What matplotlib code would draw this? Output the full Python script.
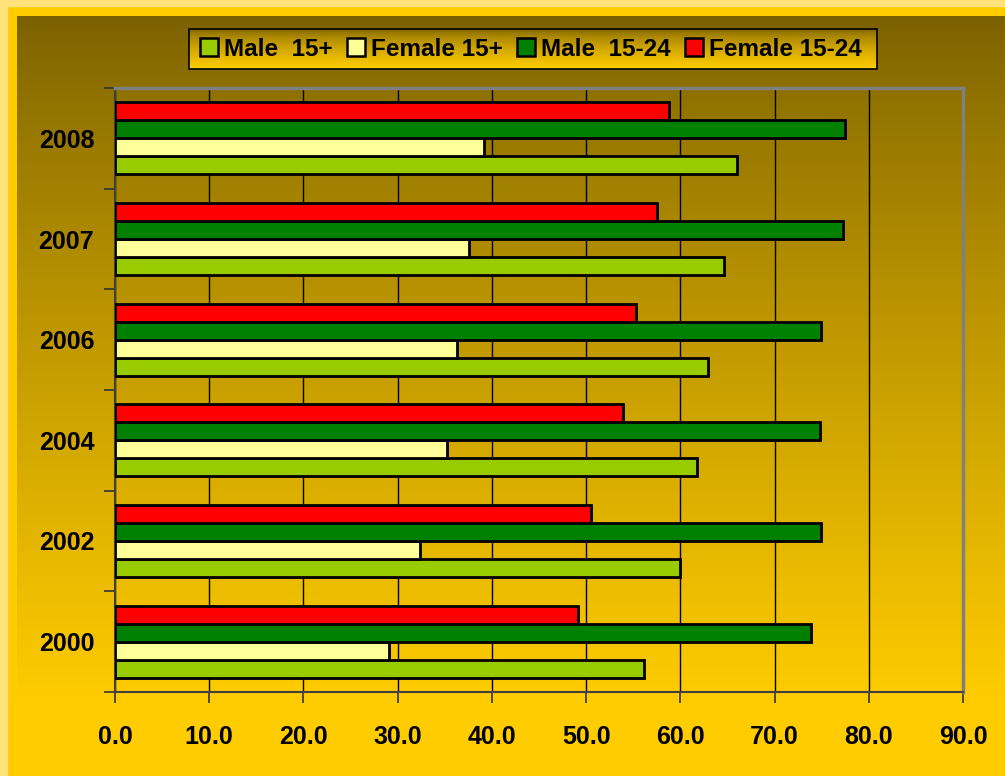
import numpy as np
import matplotlib
matplotlib.use("Agg")
import matplotlib.pyplot as plt
import matplotlib.patheffects as pe
from matplotlib.patches import Rectangle
from matplotlib import font_manager

# 数据
years = ["2000", "2002", "2004", "2006", "2007", "2008"]
male_15 = [56.1, 60.0, 61.8, 62.9, 64.6, 66.0]
female_15 = [29.1, 32.4, 35.2, 36.3, 37.6, 39.2]
male_15_24 = [73.9, 74.9, 74.8, 74.9, 77.3, 77.5]
female_15_24 = [49.1, 50.5, 53.9, 55.3, 57.5, 58.8]
series_names = ["Male  15+", "Female 15+", "Male  15-24", "Female 15-24"]
series_colors = ["#99CC00", "#FFFF99", "#008000", "#FF0000"]
x_ticks = [0, 10, 20, 30, 40, 50, 60, 70, 80, 90]

plt.rcParams['font.family'] = ['Liberation Sans', 'DejaVu Sans']
plt.rcParams['font.weight'] = 'bold'

W, H = 1005, 776
fig = plt.figure(figsize=(W / 100, H / 100), dpi=100)


def gradient(h, top=(122, 96, 0), bottom=(255, 204, 0), gamma=0.85, full=1.0):
    # full: 到达底色的位置（比例）
    t = np.clip(np.linspace(0, 1, h) / full, 0, 1) ** gamma
    c = np.array(top)[None, :] * (1 - t[:, None]) + np.array(bottom)[None, :] * t[:, None]
    return (c / 255.0)[:, None, :]


# 背景：外框 + 渐变
bg = fig.add_axes([0, 0, 1, 1], zorder=-10)
bg.add_patch(Rectangle((0, 0), W, H, color="#FFCC00", zorder=0))
bg.add_patch(Rectangle((0, 0), 7, H, color="#FFE27A", zorder=0))
bg.add_patch(Rectangle((0, 0), W, 6, color="#FFE27A", zorder=0))
bg.imshow(gradient(736, full=684 / 736), extent=(17, W, 752, 16), aspect='auto', zorder=1)
# 图例背景
bg.imshow(gradient(40, gamma=0.6), extent=(189, 877, 69, 29), aspect='auto', zorder=2)
bg.add_patch(Rectangle((189, 29), 688, 40, fill=False, ec="black", lw=1.2, zorder=3))
bg.set_xlim(0, W)
bg.set_ylim(H, 0)
bg.axis('off')

ax = fig.add_axes([115 / W, 1 - 692 / H, (963 - 115) / W, (692 - 88) / H])
ax.set_facecolor('none')

y = np.arange(len(years))
h = 0.178
offsets = [-1.5 * h, -0.5 * h, 0.5 * h, 1.5 * h]
shadow = [pe.SimplePatchShadow(offset=(1.5, -1.5), alpha=0.35), pe.Normal()]
handles = []
for vals, off, col, name in zip([male_15, female_15, male_15_24, female_15_24],
                                offsets, series_colors, series_names):
    bars = ax.barh(y + off, vals, height=h, color=col, edgecolor='black',
                   linewidth=2, zorder=3, label=name)
    for b in bars:
        b.set_path_effects(shadow)
    handles.append(Rectangle((0, 0), 1, 1, fc=col, ec='black', lw=1.8))

ax.set_xlim(0, 90)
ax.set_ylim(-0.5, len(years) - 0.5)
ax.set_xticks(x_ticks)
ax.set_xticklabels([f"{v:.1f}" for v in x_ticks], fontsize=18, fontweight='bold')
ax.set_yticks(y)
ax.set_yticklabels(years, fontsize=18, fontweight='bold')
ax.set_yticks(np.arange(-0.5, len(years)), minor=True)
ax.tick_params(axis='y', which='major', length=0, pad=15)
ax.tick_params(axis='y', which='minor', length=8, width=1.2, color='#333333', direction='out')
ax.tick_params(axis='x', length=8, width=1.2, color='#333333', direction='out', pad=16)
ax.grid(axis='x', color='black', lw=1, zorder=0)
ax.set_axisbelow(True)
for s in ['top', 'right']:
    ax.spines[s].set_color('#808080')
    ax.spines[s].set_linewidth(2.5)
for s in ['left', 'bottom']:
    ax.spines[s].set_color('#404040')
    ax.spines[s].set_linewidth(1.5)

fig.legend(handles, series_names, loc='center', ncol=4,
           bbox_to_anchor=(531 / W, 1 - 49 / H), frameon=False,
           prop=font_manager.FontProperties(family='Liberation Sans', weight='bold', size=17.5),
           handlelength=0.75, handleheight=0.75, handletextpad=0.25,
           columnspacing=0.58, borderpad=0.2)

fig.savefig("out.png", dpi=100)
